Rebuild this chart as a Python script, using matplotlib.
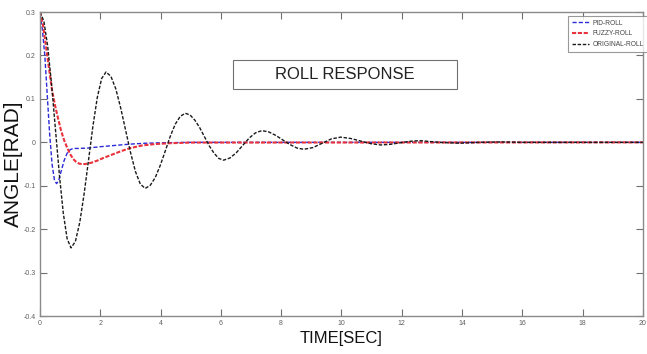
#!/usr/bin/env python
import numpy as np
import matplotlib
matplotlib.use('Agg')
import matplotlib.pyplot as plt
from matplotlib import font_manager
from matplotlib.patches import Rectangle

# values
t_pid = [0.0, 0.08, 0.16, 0.24, 0.32, 0.40, 0.48, 0.55, 0.62, 0.70, 0.80, 0.90,
         1.0, 1.1, 1.3, 1.6, 2.0, 2.5, 3.0, 3.5, 4.0, 5.0, 20.0]
y_pid = [0.295, 0.26, 0.20, 0.11, 0.02, -0.05, -0.087, -0.095, -0.088, -0.067, -0.042, -0.025,
         -0.017, -0.014, -0.014, -0.013, -0.010, -0.007, -0.004, -0.002, -0.001, 0.0, 0.0]

t_fuzzy = [0.0, 0.1, 0.2, 0.3, 0.4, 0.5, 0.6, 0.7, 0.8, 0.9, 1.0, 1.1, 1.2, 1.3, 1.4,
           1.5, 1.7, 1.9, 2.1, 2.4, 2.7, 3.0, 3.4, 3.8, 4.3, 5.0, 20.0]
y_fuzzy = [0.30, 0.27, 0.22, 0.17, 0.12, 0.085, 0.055, 0.027, 0.005, -0.012, -0.027, -0.038,
           -0.045, -0.049, -0.050, -0.050, -0.047, -0.042, -0.036, -0.028, -0.020, -0.013,
           -0.007, -0.004, -0.002, -0.0005, 0.0]

t_orig = [0.0, 0.129, 0.258, 0.386, 0.515, 0.644, 0.773, 0.901, 1.03,
          1.175, 1.32, 1.465, 1.61, 1.755, 1.90, 2.045, 2.19,
          2.3525, 2.515, 2.6775, 2.84, 3.0025, 3.165, 3.3275, 3.49,
          3.656, 3.823, 3.989, 4.155, 4.321, 4.488, 4.654, 4.82,
          4.979, 5.138, 5.296, 5.455, 5.614, 5.773, 5.931, 6.09,
          6.30, 6.51, 6.725, 6.94, 7.15, 7.36,
          7.59, 7.82, 8.055, 8.29, 8.52, 8.75,
          9.055, 9.36, 9.665, 9.97,
          10.30, 10.635, 10.97, 11.3,
          11.625, 11.95, 12.275, 12.6,
          13.25, 13.9, 14.6, 15.3, 16.0, 20.0]
y_orig = [0.300, 0.279, 0.220, 0.132, 0.028, -0.075, -0.163, -0.222, -0.243,
          -0.228, -0.184, -0.118, -0.041, 0.037, 0.103, 0.147, 0.162,
          0.152, 0.123, 0.079, 0.028, -0.023, -0.067, -0.096, -0.106,
          -0.099, -0.081, -0.053, -0.020, 0.014, 0.042, 0.060, 0.067,
          0.063, 0.051, 0.034, 0.013, -0.008, -0.025, -0.037, -0.041,
          -0.036, -0.024, -0.007, 0.010, 0.022, 0.027,
          0.024, 0.016, 0.0055, -0.005, -0.013, -0.016,
          -0.012, -0.002, 0.008, 0.012,
          0.009, 0.003, -0.003, -0.006,
          -0.0045, -0.001, 0.0025, 0.004,
          0.0, -0.002, 0.0, 0.001, 0.0, 0.0]

x_ticks = [0, 2, 4, 6, 8, 10, 12, 14, 16, 18, 20]
y_ticks = [-0.4, -0.3, -0.2, -0.1, 0.0, 0.1, 0.2, 0.3]
y_tick_labels = ['-0.4', '-0.3', '-0.2', '-0.1', '0', '0.1', '0.2', '0.3']

# narrow sans like the original, if there is one
names = set(f.name for f in font_manager.fontManager.ttflist)
fam = 'Liberation Sans Narrow' if 'Liberation Sans Narrow' in names else 'Liberation Sans'
plt.rcParams['font.family'] = [fam, 'DejaVu Sans']

fig = plt.figure(figsize=(6.47, 3.54), dpi=100)
ax = fig.add_axes([0.0618, 0.107, 0.932, 0.859])

ax.plot(t_pid, y_pid, color='#2a2ad6', lw=1.0, ls=(0, (3, 1.5)), label='PID-ROLL')
ax.plot(t_fuzzy, y_fuzzy, color='#e8323c', lw=1.5, ls=(0, (2, 0.8)), label='FUZZY-ROLL')
ax.plot(t_orig, y_orig, color='#1a1a1a', lw=1.0, ls=(0, (2.5, 1.2)), label='ORIGINAL-ROLL')

ax.set_xlim(0, 20)
ax.set_ylim(-0.4, 0.3)
ax.set_xticks(x_ticks)
ax.set_yticks(y_ticks)
ax.set_yticklabels(y_tick_labels)
ax.tick_params(direction='in', length=5, width=0.8, color='#707070',
               labelsize=5, labelcolor='#606060', top=True, right=True, pad=3)
for s in ax.spines.values():
  s.set_color('#8a8a8a')
  s.set_linewidth(1.0)

ax.set_xlabel('TIME[SEC]', fontsize=12, labelpad=3, color='#111111')
#ax.set_ylabel('ANGLE[RAD]', fontsize=14)
fig.text(13 / 647, 1 - 164 / 354, 'ANGLE[RAD]', rotation=90, ha='center',
         va='center', fontsize=15, color='#111111')

# title box inside the axes
ax.add_patch(Rectangle((0.320, 0.747), 0.371, 0.095, transform=ax.transAxes,
                       fill=False, edgecolor='#707070', lw=0.8))
ax.text(0.506, 0.794, 'ROLL RESPONSE', transform=ax.transAxes, ha='center',
        va='center', fontsize=12, color='#222222')

leg = ax.legend(loc='upper right', bbox_to_anchor=(1.008, 0.988), fontsize=4.8,
                frameon=True, fancybox=False, borderpad=0.6, handlelength=2.6,
                labelspacing=0.55, handletextpad=0.5, borderaxespad=0)
leg.get_frame().set_edgecolor('#808080')
leg.get_frame().set_linewidth(0.8)
for txt in leg.get_texts():
  txt.set_color('#444444')

fig.savefig('out.png', dpi=100)
